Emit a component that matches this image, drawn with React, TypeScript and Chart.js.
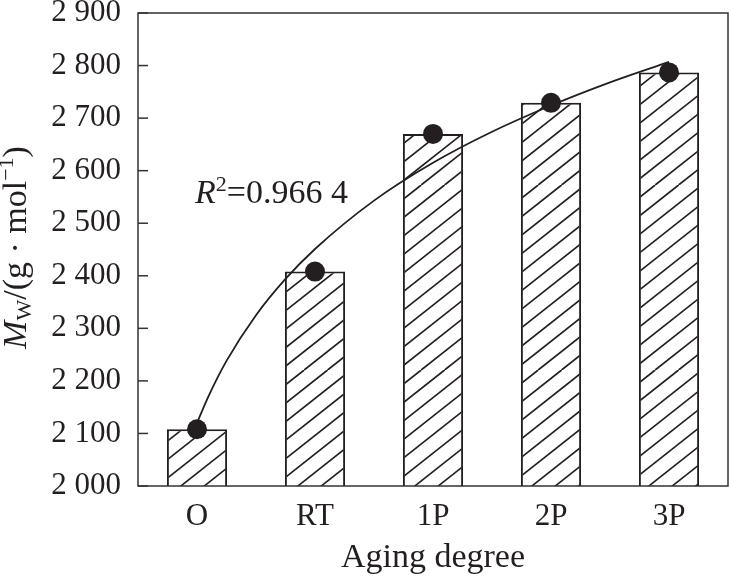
import React, { useEffect, useRef } from "react";
import { Chart, registerables } from "chart.js";

Chart.register(...registerables);

// ---- data ----
const categories = ["O", "RT", "1P", "2P", "3P"];
const mwValues = [2108, 2408, 2670, 2729, 2787];
// fitted trend curve (x = category index)
const trendIndex = [0, 0.1, 0.25, 0.5, 0.75, 1, 1.5, 2, 2.5, 3, 3.5, 4];
const trendValues = [2120, 2172, 2238, 2325, 2394, 2451, 2543, 2615, 2674, 2724, 2768, 2807];
const yMin = 2000;
const yMax = 2900;
const yStep = 100;
const xTitle = "Aging degree";
const r2Label = { r: "R", sup: "2", rest: "=0.966 4", index: 0, value: 2538 };

const SERIF = '"Liberation Serif", "Times New Roman", serif';
const INK = "#231f20";

function fmtTick(v: number): string {
  const th = Math.floor(v / 1000);
  const rest = String(Math.round(v % 1000)).padStart(3, "0");
  return `${th} ${rest}`;
}

function makeHatch(): CanvasPattern | string {
  const W = 23.4;
  const H = 18.5;
  const cw = 234;
  const ch = 185;
  const c = document.createElement("canvas");
  c.width = cw;
  c.height = ch;
  const g = c.getContext("2d");
  if (!g) return "#fff";
  g.fillStyle = "#fff";
  g.fillRect(0, 0, cw, ch);
  g.strokeStyle = INK;
  g.lineWidth = 1.7;
  for (let k = -12; k <= 22; k++) {
    const x0 = k * W;
    g.beginPath();
    g.moveTo(x0, ch);
    g.lineTo(x0 + (ch / H) * W, 0);
    g.stroke();
  }
  const p = g.createPattern(c, "repeat");
  return p || "#fff";
}

function drawRich(
  ctx: CanvasRenderingContext2D,
  parts: { t: string; size: number; italic?: boolean; dy?: number }[],
  x: number,
  y: number,
  align: "left" | "center"
) {
  let total = 0;
  const widths: number[] = [];
  for (const p of parts) {
    ctx.font = `${p.italic ? "italic " : ""}${p.size}px ${SERIF}`;
    const w = ctx.measureText(p.t).width;
    widths.push(w);
    total += w;
  }
  let cx = align === "center" ? x - total / 2 : x;
  ctx.textBaseline = "alphabetic";
  ctx.textAlign = "left";
  parts.forEach((p, i) => {
    ctx.font = `${p.italic ? "italic " : ""}${p.size}px ${SERIF}`;
    ctx.fillText(p.t, cx, y + (p.dy || 0));
    cx += widths[i];
  });
}

const decorPlugin = {
  id: "decor",
  afterDatasetsDraw(chart: any) {
    const { ctx, chartArea } = chart;
    const ys = chart.scales.y;
    ctx.save();
    ctx.strokeStyle = "#333";
    ctx.lineWidth = 1.5;
    ctx.strokeRect(chartArea.left, chartArea.top, chartArea.right - chartArea.left, chartArea.bottom - chartArea.top);
    ys.ticks.forEach((t: any) => {
      const py = ys.getPixelForValue(t.value);
      ctx.beginPath();
      ctx.moveTo(chartArea.left, py);
      ctx.lineTo(chartArea.left + 10, py);
      ctx.stroke();
    });
    ctx.restore();
  },
  afterDraw(chart: any) {
    const { ctx, chartArea } = chart;
    const xs = chart.scales.x;
    const ys = chart.scales.y;
    ctx.save();
    ctx.fillStyle = INK;
    // category labels under the axis
    ctx.font = `31px ${SERIF}`;
    ctx.textAlign = "center";
    ctx.textBaseline = "alphabetic";
    categories.forEach((c, i) => {
      ctx.fillText(c, xs.getPixelForValue(i), chartArea.bottom + 39);
    });
    // x title
    ctx.font = `34px ${SERIF}`;
    ctx.fillText(xTitle, (chartArea.left + chartArea.right) / 2, chartArea.bottom + 81);
    // y title (rotated)
    ctx.save();
    ctx.translate(26, (chartArea.top + chartArea.bottom) / 2 - 2);
    ctx.rotate(-Math.PI / 2);
    drawRich(
      ctx,
      [
        { t: "M", size: 34, italic: true },
        { t: "W", size: 22, dy: 5 },
        { t: "/(g", size: 34 },
        { t: " · ", size: 34 },
        { t: "mol", size: 34 },
        { t: "−1", size: 22, dy: -13 },
        { t: ")", size: 34 },
      ],
      0,
      0,
      "center"
    );
    ctx.restore();
    // R^2 annotation
    const ax = xs.getPixelForValue(r2Label.index) - 2;
    const ay = ys.getPixelForValue(r2Label.value);
    drawRich(
      ctx,
      [
        { t: r2Label.r, size: 34, italic: true },
        { t: r2Label.sup, size: 22, dy: -12 },
        { t: r2Label.rest, size: 34 },
      ],
      ax,
      ay,
      "left"
    );
    ctx.restore();
  },
};

export default function App() {
  const ref = useRef<HTMLCanvasElement | null>(null);
  useEffect(() => {
    document.body.style.margin = "0";
    const canvas = ref.current;
    if (!canvas) return;
    const hatch = makeHatch();
    const chart = new Chart(canvas, {
      type: "bar",
      data: {
        datasets: [
          {
            type: "bar",
            data: mwValues.map((v, i) => ({ x: i, y: v })),
            backgroundColor: hatch as any,
            borderColor: INK,
            borderWidth: 2,
            borderSkipped: false,
            grouped: false,
            barPercentage: 0.51,
            categoryPercentage: 1,
            order: 3,
          } as any,
          {
            type: "line",
            data: trendIndex.map((x, i) => ({ x, y: trendValues[i] })),
            borderColor: INK,
            borderWidth: 1.8,
            pointRadius: 0,
            cubicInterpolationMode: "monotone",
            fill: false,
            order: 2,
          } as any,
          {
            type: "line",
            data: mwValues.map((v, i) => ({ x: i, y: v })),
            showLine: false,
            pointRadius: 10,
            pointHoverRadius: 10,
            pointBackgroundColor: INK,
            pointBorderColor: INK,
            pointBorderWidth: 0,
            order: 1,
          } as any,
        ],
      },
      options: {
        responsive: false,
        animation: false,
        events: [],
        layout: { autoPadding: false, padding: { top: 13, right: 1, left: 0, bottom: 0 } },
        plugins: { legend: { display: false }, tooltip: { enabled: false }, title: { display: false } },
        scales: {
          x: {
            type: "linear",
            min: -0.5,
            max: 4.5,
            offset: false,
            bounds: "data",
            grid: { display: false, drawTicks: false, offset: false },
            border: { display: false },
            ticks: { display: false, stepSize: 1 },
            afterFit: (s: any) => {
              s.height = 90;
              s.paddingLeft = 0;
              s.paddingRight = 0;
            },
          },
          y: {
            type: "linear",
            min: yMin,
            max: yMax,
            grid: { display: false, drawTicks: false },
            border: { display: false },
            ticks: {
              stepSize: yStep,
              color: INK,
              font: { family: SERIF, size: 31 },
              padding: 17,
              callback: (v: any) => fmtTick(Number(v)),
            },
            afterFit: (s: any) => {
              s.width = 138;
              s.paddingTop = 0;
              s.paddingBottom = 0;
            },
          },
        } as any,
      },
      plugins: [decorPlugin],
    });
    return () => chart.destroy();
  }, []);
  return (
    <div style={{ width: 729, height: 576 }}>
      <canvas ref={ref} width={729} height={576} style={{ display: "block" }} />
    </div>
  );
}
